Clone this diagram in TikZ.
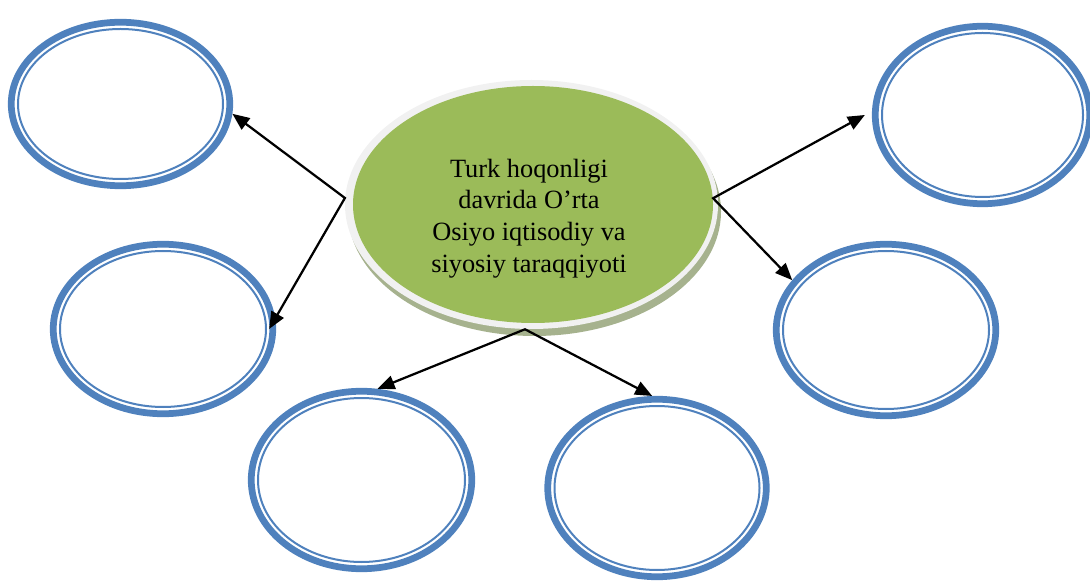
\documentclass[tikz,border=0pt]{standalone}
\usepackage{fontspec}
\setmainfont{Liberation Serif}
\usepackage{tikz}
\usetikzlibrary{shapes,arrows.meta,positioning,shadows}
\definecolor{ringblue}{RGB}{79, 129, 189}
\definecolor{hubgreen}{RGB}{155, 187, 89}
\definecolor{rimgray}{RGB}{241, 241, 241}
\definecolor{shadowgreen}{RGB}{166, 178, 142}

\begin{document}
\begin{tikzpicture}[
    ring/.style={ellipse, draw=ringblue, line width=0.135cm, inner sep=0pt},
    innerring/.style={ellipse, draw=ringblue, line width=0.04cm, inner sep=0pt},
    link/.style={{Triangle[length=0.34cm, width=0.28cm]}-{Triangle[length=0.34cm, width=0.28cm]}, line width=0.045cm}
]

\useasboundingbox (0,0) rectangle (21.8,11.66);

% Centre
\node[ellipse, inner sep=0pt, fill=rimgray, minimum width=7.46cm, minimum height=4.98cm,
      drop shadow={shadow xshift=0.06cm, shadow yshift=-0.14cm, fill=shadowgreen, opacity=1}] (core) at (10.63,7.57) {};
\node[ellipse, inner sep=0pt, fill=hubgreen, minimum width=7.20cm, minimum height=4.74cm] (hub) at (10.66,7.57) {};
\node[align=center, font=\fontsize{15pt}{18pt}\selectfont] (hubtext) at ([xshift=-0.08cm, yshift=-0.28cm]hub.center) {Turk hoqonligi\\davrida O’rta\\Osiyo iqtisodiy va\\siyosiy taraqqiyoti};

% Left side
\node[ring, minimum width=4.37cm, minimum height=3.27cm] (oval1) at (2.41,9.58) {};
\node[innerring, minimum width=4.10cm, minimum height=3.00cm] at (oval1) {};
\node[ring, minimum width=4.39cm, minimum height=3.39cm] (oval2) at (3.26,5.08) {};
\node[innerring, minimum width=4.12cm, minimum height=3.12cm] at (oval2) {};

% Bottom
\node[ring, minimum width=4.41cm, minimum height=3.55cm] (oval3) at (7.23,2.06) {};
\node[innerring, minimum width=4.14cm, minimum height=3.28cm] at (oval3) {};
\node[ring, minimum width=4.37cm, minimum height=3.55cm] (oval4) at (13.14,1.90) {};
\node[innerring, minimum width=4.10cm, minimum height=3.28cm] at (oval4) {};

% Right side
\node[ring, minimum width=4.39cm, minimum height=3.43cm] (oval5) at (17.72,5.06) {};
\node[innerring, minimum width=4.12cm, minimum height=3.16cm] at (oval5) {};
\node[ring, minimum width=4.29cm, minimum height=3.55cm] (oval6) at (19.65,9.36) {};
\node[innerring, minimum width=4.02cm, minimum height=3.28cm] at (oval6) {};

% Arrows
\draw[link] (oval1.-5) -- (core.178) -- ([xshift=-0.14cm]oval2.east);
\draw[link] ([xshift=-0.14cm]oval6.west) -- (hub.2) -- (oval5.152);
\draw[link] (oval3.80) -- (core.267) -- (oval4.93);

\end{tikzpicture}
\end{document}
